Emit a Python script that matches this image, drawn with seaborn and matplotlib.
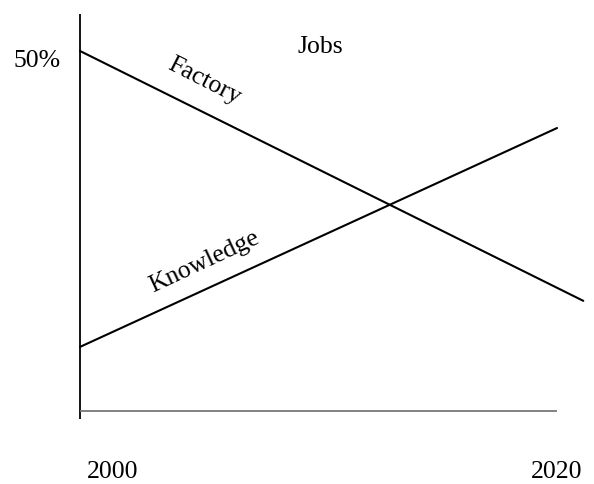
import matplotlib.pyplot as plt
import seaborn as sns
import pandas as pd

# jobs share (%) by year
years_factory = [2000, 2021.1]
factory = [50, 15.3]
years_knowledge = [2000, 2020]
knowledge = [8.9, 39.3]

tick_years = [2000, 2020]
tick_labels = ["2000", "2020"]

sns.set_style("white")
plt.rcParams["font.family"] = ["Liberation Serif", "DejaVu Serif"]

df = pd.concat([
    pd.DataFrame({"year": years_factory, "share": factory, "kind": "Factory"}),
    pd.DataFrame({"year": years_knowledge, "share": knowledge, "kind": "Knowledge"}),
])

fig = plt.figure(figsize=(5.94, 4.85), dpi=100)
ax = fig.add_axes([0, 0, 1, 1])
sns.lineplot(data=df, x="year", y="share", units="kind", estimator=None,
             color="black", linewidth=1.5, ax=ax, legend=False)

ax.set_xlim(1996.646, 2021.55)
ax.set_ylim(-10.14, 57.22)
ax.axis("off")

# axes drawn by hand: black vertical, grey baseline
ax.vlines(2000, -1.1, 55.1, color="black", linewidth=1.3)
ax.hlines(0, 2000, 2020, color="#777777", linewidth=1.3)

fs = 18.5
kw = dict(ha="center", va="center", fontsize=fs, color="black")
ax.text(1998.2, 48.7, "50%", **kw)
ax.text(2010.06, 50.7, "Jobs", **kw)
ax.text(2005.2, 46.0, "Factory", rotation=-27, **kw)
ax.text(2005.2, 20.8, "Knowledge", rotation=25, **kw)
# year labels sit below the baseline, nudged as in the reference
for yr, lab, dx in zip(tick_years, tick_labels, [1.38, 0.0]):
    ax.text(yr + dx, -8.4, lab, **kw)

plt.savefig("out.png", dpi=100)
